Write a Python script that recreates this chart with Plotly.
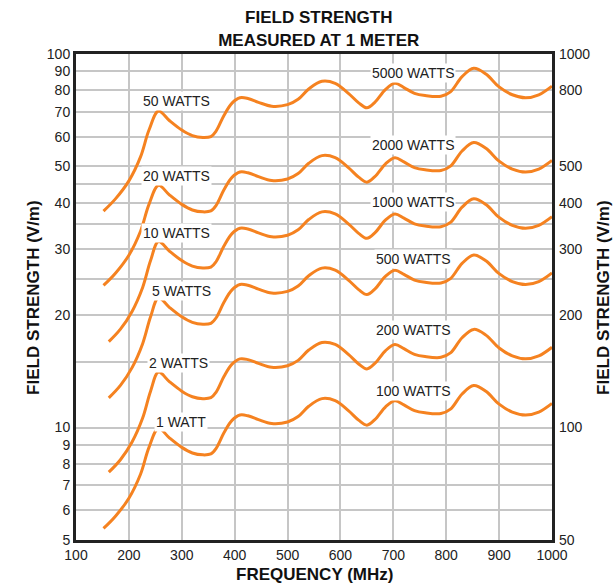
import math
import plotly.graph_objects as go

# ---- data ----
freq_early = [152, 175, 200, 222, 238, 256, 276, 300, 320, 340, 355, 365, 380, 395,
              410, 425, 445, 470, 500, 520, 540, 565, 590, 615, 635, 650, 665, 685, 703, 720, 740,
              760, 790, 808, 830, 852, 875, 900, 925, 950, 975, 1000]
freq_late = [162, 184, 206, 226, 241, 256, 276, 300, 320, 340, 355, 365, 380, 395,
             410, 425, 445, 470, 500, 520, 540, 565, 590, 615, 635, 650, 665, 685, 703, 720, 740,
             760, 790, 808, 830, 852, 875, 900, 925, 950, 975, 1000]
field_1w = [5.37, 5.8, 6.47, 7.5, 8.85, 9.95, 9.4, 8.85, 8.55, 8.45, 8.5, 8.8, 9.7,
            10.45, 10.8, 10.75, 10.5, 10.25, 10.35, 10.7, 11.4, 11.95, 11.8, 11.1, 10.45, 10.15,
            10.5, 11.35, 11.8, 11.5, 11.1, 10.95, 10.9, 11.2, 12.3, 12.95, 12.5, 11.55, 11.0, 10.8,
            11.0, 11.6]
low_watts = [1, 2, 5, 10, 20, 50]
high_watts = [100, 200, 500, 1000, 2000, 5000]
late_start = [False, True, True, True, False, False]
low_labels = ["1 WATT", "2 WATTS", "5 WATTS", "10 WATTS", "20 WATTS", "50 WATTS"]
high_labels = ["100 WATTS", "200 WATTS", "500 WATTS", "1000 WATTS", "2000 WATTS", "5000 WATTS"]

left_ticks = [5, 6, 7, 8, 9, 10, 15, 20, 25, 30, 35, 40, 45, 50, 60, 70, 80, 90, 100]
left_text = ["5", "6", "7", "8", "9", "10", "", "20", "", "30", "", "40", "", "50", "60", "70", "80", "90", "100"]
right_ticks = [50, 100, 200, 300, 400, 500, 800, 1000]
x_ticks = [100, 200, 300, 400, 500, 600, 700, 800, 900, 1000]

ORANGE = "#f58220"
GRID = "#c6c6c6"
FONT = "Liberation Sans, Arial, sans-serif"

fig = go.Figure()
for w, late in zip(low_watts, late_start):
    xs = freq_late if late else freq_early
    ys = [v * w ** 0.5 for v in field_1w]
    fig.add_trace(go.Scatter(x=xs, y=ys, mode="lines",
                             line=dict(color=ORANGE, width=3, shape="spline", smoothing=1.0),
                             hoverinfo="skip", showlegend=False))
# invisible trace to activate right axis
fig.add_trace(go.Scatter(x=[100], y=[50], yaxis="y2", mode="markers",
                         marker=dict(opacity=0), showlegend=False, hoverinfo="skip"))

# labels (left-axis values; log axis needs log10 positions)
low_pos = [(298, 10.36), (294, 14.9), (299, 23.2), (290, 33.1), (290, 47.2), (290, 74.8)]
high_pos = [(739, 12.5), (739, 18.2), (739, 28.2), (738, 40.2), (738, 57.2), (738, 88.9)]
for txt, (x, y) in zip(low_labels + high_labels, low_pos + high_pos):
    fig.add_annotation(x=x, y=math.log10(y), xref="x", yref="y", text=txt, showarrow=False,
                       bgcolor="white", borderpad=1, font=dict(size=14, color="#222", family=FONT))

# axis titles
fig.add_annotation(x=-0.0905, y=0.5, xref="paper", yref="paper", text="<b>FIELD STRENGTH (V/m)</b>",
                   textangle=-90, showarrow=False, xanchor="center", yanchor="middle",
                   font=dict(size=17, color="#111", family=FONT))
fig.add_annotation(x=1.107, y=0.5, xref="paper", yref="paper", text="<b>FIELD STRENGTH (V/m)</b>",
                   textangle=-90, showarrow=False, xanchor="center", yanchor="middle",
                   font=dict(size=17, color="#111", family=FONT))
fig.add_annotation(x=0.5, y=-0.072, xref="paper", yref="paper", text="<b>FREQUENCY (MHz)</b>",
                   showarrow=False, xanchor="center", yanchor="middle",
                   font=dict(size=17, color="#111", family=FONT))

fig.update_layout(
    width=614, height=587,
    margin=dict(l=76, r=62, t=54, b=47),
    paper_bgcolor="white", plot_bgcolor="white",
    font=dict(family=FONT, size=14, color="#222"),
    title=dict(text="<b>FIELD STRENGTH<br>MEASURED AT 1 METER</b>", x=0.51, xref="paper",
               y=0.960, yanchor="middle", font=dict(size=17, color="#111", family=FONT)),
    xaxis=dict(range=[100, 1000], tickvals=x_ticks, showgrid=True, gridcolor=GRID, gridwidth=1.5,
               showline=True, linecolor="#222", linewidth=3, mirror=True, zeroline=False,
               ticks="", tickfont=dict(size=14)),
    yaxis=dict(type="log", range=[0.69897, 2], tickvals=left_ticks, ticktext=left_text,
               showgrid=True, gridcolor=GRID, gridwidth=1.5, showline=True, linecolor="#222",
               linewidth=3, mirror=True, ticks="", tickfont=dict(size=14)),
    yaxis2=dict(type="log", range=[1.69897, 3], overlaying="y", side="right",
                tickvals=right_ticks, ticktext=[str(v) for v in right_ticks], showgrid=False,
                showline=False, ticks="", ticklabelstandoff=6, tickfont=dict(size=14)),
)

fig.write_html("out.html")
